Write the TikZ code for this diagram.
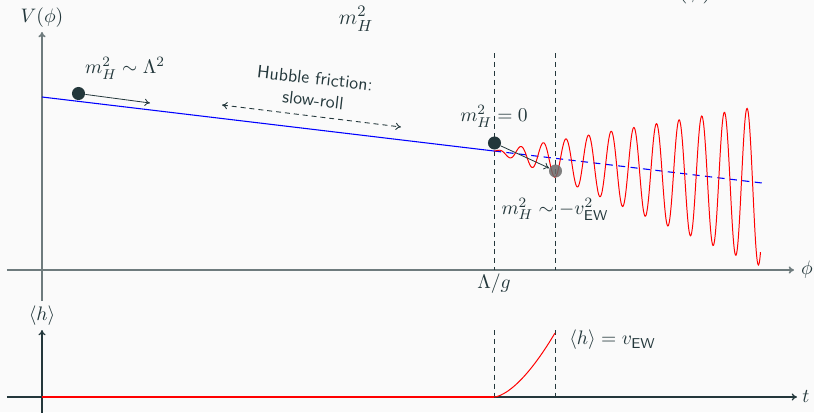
\documentclass[tikz,border=0pt]{standalone}
\usepackage{amsmath}
\usetikzlibrary{arrows.meta}
\definecolor{mdark}{HTML}{23373B}
\definecolor{bgc}{HTML}{FAFAFA}
\definecolor{axgray}{HTML}{6E7B7D}
\definecolor{ballgray}{HTML}{6A6A6A}
\begin{document}
\begin{tikzpicture}[x=0.56pt,y=-0.56pt,
  font=\fontsize{11}{13}\selectfont, text=mdark,
  axistop/.style={draw=axgray, line width=0.9pt, -{To[length=3pt,width=4pt]}},
  axisbot/.style={draw=mdark, line width=0.7pt, -{To[length=3pt,width=4pt]}},
  vdash/.style={draw=mdark, line width=0.5pt, dash pattern=on 2.8pt off 2.2pt},
  ballnode/.style={circle, fill=mdark, inner sep=0pt, minimum size=7.3pt},
  ghostball/.style={circle, fill=ballgray, fill opacity=0.85, inner sep=0pt, minimum size=7.3pt},
  pusharrow/.style={draw=mdark, line width=0.45pt, -{To[length=3pt,width=4pt]}},
  sflabel/.style={font=\sffamily\fontsize{10}{12}\selectfont},
  potline/.style={draw=blue, line width=0.6pt},
  osc/.style={draw=red, line width=0.55pt}]
\fill[bgc] (0,0) rectangle (814,412);
\useasboundingbox (0,0) rectangle (814,412);

% partial title texts
\node (ttl) at (356,19) {\fontsize{12.5}{15}\selectfont$m_H^2$};
\node (ttr) at (695,-9) {\fontsize{14}{16}\selectfont$(\phi)$};

% top axes
\coordinate (tx0) at (7,270);
\coordinate (tx1) at (794,270);
\coordinate (ty0) at (42,301);
\coordinate (ty1) at (42,32);
\draw[axistop] (tx0) -- (tx1);
\draw[axistop] (ty0) -- (ty1);
\node (phil) at (807,270) {$\phi$};
\node (vl) at (42,18) {$V(\phi)$};

% dashed verticals top
\coordinate (d1a) at (494,53);
\coordinate (d1b) at (494,270);
\coordinate (d2a) at (555,53);
\coordinate (d2b) at (555,270);
\draw[vdash] (d1a) -- (d1b);
\draw[vdash] (d2a) -- (d2b);
\node (lg) at (494,284) {$\Lambda/g$};

% potential
\coordinate (p0) at (42,97);
\coordinate (p1) at (494,151);
\coordinate (p2) at (762,183);
\draw[potline] (p0) -- (p1);
\draw[potline, dash pattern=on 4pt off 3pt] (p1) -- (p2);

% oscillation
\draw[osc] plot[domain=494:760.5, samples=500, smooth]
  (\x, {97+0.1195*(\x-42) + 0.012*(\x-494) + 0.3*(\x-494)*cos(15.901*(\x-509.3))});

% balls and arrows
\node[ballnode] (b1) at (78.5,93.5) {};
\coordinate (a1) at (150,103);
\draw[pusharrow] (b1) -- (a1);
\node (l1) at (125,68) {$m_H^2\sim\Lambda^2$};

\node[ghostball] (b3) at (555.5,171) {};
\node[ballnode] (b2) at (494.5,143) {};
\draw[pusharrow] (b2) -- (b3);
\node (l2) at (494,116) {$m_H^2=0$};
\node (l3) at (555,209) {$m_H^2\sim-v_{\mathsf{EW}}^2$};

% Hubble friction
\node[sflabel, rotate=-6.5] (hf) at (315,78) {Hubble friction:};
\node[sflabel, rotate=-6.5] (sr) at (313,100) {slow-roll};
\coordinate (h0) at (222,105);
\coordinate (h1) at (401,127);
\draw[draw=mdark, line width=0.5pt, dash pattern=on 2.8pt off 2.2pt, {To[length=3pt,width=4pt]}-{To[length=3pt,width=4pt]}] (h0) -- (h1);

% bottom axes
\coordinate (bx0) at (7,397);
\coordinate (bx1) at (797,397);
\coordinate (by0) at (42,415);
\coordinate (by1) at (42,330);
\draw[axisbot] (bx0) -- (bx1);
\draw[axisbot] (by0) -- (by1);
\node (tl) at (806,396) {$t$};
\node (hl) at (42,316) {$\langle h\rangle$};

\coordinate (e1a) at (494,330);
\coordinate (e1b) at (494,397);
\coordinate (e2a) at (555,330);
\coordinate (e2b) at (555,397);
\draw[vdash] (e1a) -- (e1b);
\draw[vdash] (e2a) -- (e2b);

\coordinate (r0) at (42,397);
\coordinate (r1) at (494,397);
\draw[osc, line width=0.7pt] (r0) -- (r1);
\draw[osc] plot[domain=494:555, samples=60, smooth] (\x, {397-64*((\x-494)/61)^1.6});
\node[anchor=west] (hv) at (563,340) {$\langle h\rangle=v_{\mathsf{EW}}$};
\end{tikzpicture}
\end{document}
